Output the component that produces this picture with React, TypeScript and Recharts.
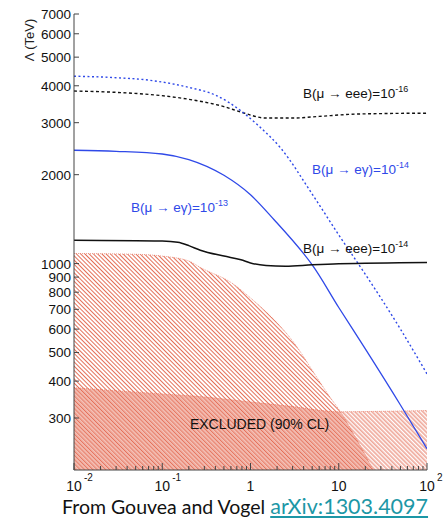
import React from 'react';
import { ComposedChart, Line, Area, XAxis, YAxis, ReferenceDot } from 'recharts';

// [x, Lambda in TeV]
const eee16 = [[0.01, 3840], [0.03, 3800], [0.07, 3740], [0.2, 3600], [0.5, 3400], [0.8, 3250], [1.5, 3110], [3, 3110], [6, 3150], [13, 3200], [30, 3220], [100, 3230]];
const egamma14 = [[0.01, 4310], [0.03, 4260], [0.07, 4180], [0.2, 3950], [0.4, 3720], [0.8, 3270], [1.2, 2950], [2.2, 2460], [5, 1720], [10, 1250], [20, 920], [50, 600], [100, 423]];
const egamma13 = [[0.01, 2420], [0.03, 2400], [0.1, 2350], [0.2, 2250], [0.5, 1990], [1, 1710], [1.84, 1410], [4, 1080], [5, 990], [10, 710], [20, 514], [50, 332], [100, 236]];
const eee14 = [[0.01, 1200], [0.1, 1192], [0.15, 1180], [0.2, 1150], [0.27, 1110], [0.5, 1060], [0.78, 1030], [1, 1005], [1.5, 985], [2.5, 980], [5, 990], [10, 998], [100, 1008]];
const excludedA = [[0.01, 1082], [0.05, 1075], [0.1, 1060], [0.2, 1020], [0.27, 970], [0.63, 855], [1, 765], [1.54, 681], [3, 547], [5.7, 410], [8, 352], [10.3, 317], [15, 262], [20, 225], [24.4, 200]];
const excludedB = [[0.01, 380], [0.1, 362], [0.23, 356], [1, 340], [3, 328], [10, 315], [30, 316], [100, 318]];

const xTicks = [
  0.01, 0.02, 0.03, 0.04, 0.05, 0.06, 0.07, 0.08, 0.09,
  0.1, 0.2, 0.3, 0.4, 0.5, 0.6, 0.7, 0.8, 0.9,
  1, 2, 3, 4, 5, 6, 7, 8, 9,
  10, 20, 30, 40, 50, 60, 70, 80, 90, 100,
];
const xMajor = [0.01, 0.1, 1, 10, 100];
const xBase = ['10', '10', '1', '10', '10'];
const xExp = ['-2', '-1', '', '', '2'];
const yTicks = [300, 400, 500, 600, 700, 800, 900, 1000, 2000, 3000, 4000, 5000, 6000, 7000];

// curve labels: [x, y, base text, exponent, colour]
const curveLabels: [number, number, string, string, string][] = [
  [3.94, 3630, 'B(\u03bc \u2192 eee)=10', '-16', '#111'],
  [4.98, 2018, 'B(\u03bc \u2192 e\u03b3)=10', '-14', '#2f49e8'],
  [0.0442, 1490, 'B(\u03bc \u2192 e\u03b3)=10', '-13', '#2f49e8'],
  [3.94, 1082, 'B(\u03bc \u2192 eee)=10', '-14', '#111'],
];

const FONT = '"Liberation Sans", Arial, sans-serif';
const AXIS = '#444';
const BLUE = '#2f49e8';
const RED = '#e0553a';

const pts = (pairs: number[][]) => pairs.map(([x, y]) => ({ x, y }));

const BottomTick = (props: any) => {
  const { x, y, payload } = props;
  const i = xMajor.indexOf(payload.value);
  const major = i >= 0;
  return (
    <g>
      <line x1={x} y1={y} x2={x} y2={y - (major ? 7 : 4)} stroke={AXIS} />
      {major && (
        <text x={x} y={y + 21} textAnchor="middle" fontSize={14} fill="#111" fontFamily={FONT}>{xBase[i]}</text>
      )}
      {major && xExp[i] && (
        <text x={x + 10} y={y + 11} fontSize={10} fill="#111" fontFamily={FONT}>{xExp[i]}</text>
      )}
    </g>
  );
};

const TopTick = (props: any) => {
  const { x, y, payload } = props;
  const major = xMajor.indexOf(payload.value) >= 0;
  return <line x1={x} y1={y} x2={x} y2={y + (major ? 7 : 4)} stroke={AXIS} />;
};

const LeftTick = (props: any) => {
  const { x, y, payload } = props;
  return (
    <g>
      <line x1={x} y1={y} x2={x + 5} y2={y} stroke={AXIS} />
      <text x={x - 3} y={y + 5} textAnchor="end" fontSize={13.5} fill="#111" fontFamily={FONT}>{payload.value}</text>
    </g>
  );
};

const RightTick = (props: any) => {
  const { x, y } = props;
  return <line x1={x} y1={y} x2={x - 5} y2={y} stroke={AXIS} />;
};

const CurveLabel = ({ viewBox, base, exp, color }: any) => {
  if (!viewBox) return null;
  return (
    <text x={viewBox.x} y={viewBox.y} fill={color} fontSize={13.5} fontFamily={FONT}>
      {base}
      <tspan dy={-6} fontSize={9}>{exp}</tspan>
    </text>
  );
};

export default function App() {
  return (
    <div style={{ position: 'absolute', left: 0, top: 0, width: 446, height: 518, background: '#fff' }}>
      <ComposedChart width={446} height={500} margin={{ top: 14, right: 19, left: 0, bottom: 0 }}>
        <defs>
          <pattern id="hatchA" patternUnits="userSpaceOnUse" width={3} height={3} patternTransform="rotate(-45)">
            <rect x={0} y={0} width={0.85} height={3} fill={RED} />
          </pattern>
          <pattern id="hatchB" patternUnits="userSpaceOnUse" width={3} height={3} patternTransform="rotate(-45)">
            <rect x={1.5} y={0} width={0.85} height={3} fill={RED} />
          </pattern>
        </defs>
        <XAxis
          dataKey="x"
          type="number"
          scale="log"
          domain={[0.01, 100]}
          allowDataOverflow
          ticks={xTicks}
          interval={0}
          tickSize={0}
          tickMargin={0}
          tickLine={false}
          height={30}
          axisLine={{ stroke: AXIS }}
          tick={<BottomTick />}
        />
        <XAxis
          xAxisId="top"
          orientation="top"
          type="number"
          scale="log"
          domain={[0.01, 100]}
          allowDataOverflow
          ticks={xTicks}
          interval={0}
          tickSize={0}
          tickMargin={0}
          tickLine={false}
          height={0}
          axisLine={{ stroke: AXIS }}
          tick={<TopTick />}
        />
        <YAxis
          type="number"
          scale="log"
          domain={[200, 7000]}
          allowDataOverflow
          ticks={yTicks}
          interval={0}
          tickSize={0}
          tickMargin={0}
          tickLine={false}
          width={74}
          axisLine={{ stroke: AXIS }}
          tick={<LeftTick />}
        />
        <YAxis
          yAxisId="right"
          orientation="right"
          type="number"
          scale="log"
          domain={[200, 7000]}
          allowDataOverflow
          ticks={yTicks}
          interval={0}
          tickSize={0}
          tickMargin={0}
          tickLine={false}
          width={0}
          axisLine={{ stroke: AXIS }}
          tick={<RightTick />}
        />
        <Area data={pts(excludedA)} dataKey="y" type="monotone" baseValue={200} fill="url(#hatchA)" fillOpacity={1}
          stroke={RED} strokeWidth={0.8} strokeDasharray="1 1" strokeOpacity={0.7} isAnimationActive={false} />
        <Area data={pts(excludedB)} dataKey="y" type="monotone" baseValue={200} fill="url(#hatchB)" fillOpacity={1}
          stroke={RED} strokeWidth={0.8} strokeDasharray="1 1" strokeOpacity={0.7} isAnimationActive={false} />
        <Line data={pts(eee16)} dataKey="y" type="monotone" stroke="#111" strokeWidth={1.4} strokeDasharray="3 2.5" dot={false} isAnimationActive={false} />
        <Line data={pts(egamma14)} dataKey="y" type="monotone" stroke={BLUE} strokeWidth={1.4} strokeDasharray="2 2.5" dot={false} isAnimationActive={false} />
        <Line data={pts(egamma13)} dataKey="y" type="monotone" stroke={BLUE} strokeWidth={1.3} dot={false} isAnimationActive={false} />
        <Line data={pts(eee14)} dataKey="y" type="monotone" stroke="#111" strokeWidth={1.5} dot={false} isAnimationActive={false} />
        {curveLabels.map(([x, y, base, exp, color], i) => (
          <ReferenceDot key={i} x={x} y={y} r={0} fill="none" stroke="none"
            label={<CurveLabel base={base} exp={exp} color={color} />} />
        ))}
        <ReferenceDot x={0.206} y={275} r={0} fill="none" stroke="none"
          label={(p: any) => p.viewBox ? (
            <text x={p.viewBox.x} y={p.viewBox.y} fontSize={14} fill="#111" fontFamily={FONT}>EXCLUDED (90% CL)</text>
          ) : null} />
      </ComposedChart>
      <svg width={446} height={518} style={{ position: 'absolute', left: 0, top: 0, pointerEvents: 'none' }}>
        <text transform="translate(34,40) rotate(-90)" textAnchor="middle" fontSize={13} fill="#222" fontFamily={FONT}>
          {'\u039b (TeV)'}
        </text>
        <text x={62} y={514} fontSize={19.5} fill="#111" fontFamily="Lato, sans-serif">
          From Gouvea and Vogel{' '}
          <tspan fill="#1c97a6" textDecoration="underline" fontSize={21.5}>arXiv:1303.4097</tspan>
        </text>
      </svg>
    </div>
  );
}
